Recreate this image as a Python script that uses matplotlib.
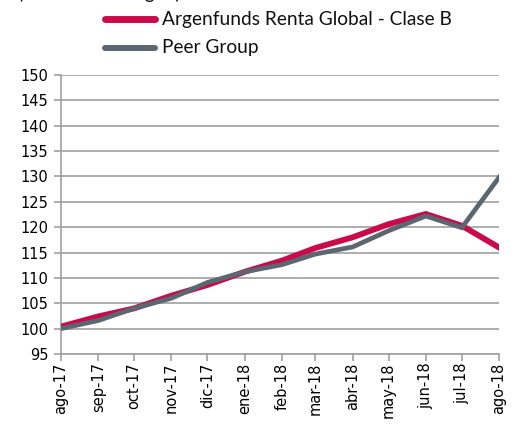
import matplotlib
matplotlib.use("Agg")
import matplotlib.pyplot as plt
from matplotlib.lines import Line2D
import datetime as dt

# ---- data ----
month_labels = ["ago-17", "sep-17", "oct-17", "nov-17", "dic-17", "ene-18", "feb-18",
                "mar-18", "abr-18", "may-18", "jun-18", "jul-18", "ago-18"]
month_dates = ["2017-08-01", "2017-09-01", "2017-10-01", "2017-11-01", "2017-12-01",
               "2018-01-01", "2018-02-01", "2018-03-01", "2018-04-01", "2018-05-01",
               "2018-06-01", "2018-07-01", "2018-08-01"]
fund_values = [100.4, 102.4, 104.0, 106.5, 108.6, 111.2, 113.4, 115.9, 118.0, 120.6, 122.6, 120.3, 116.0]
peer_values = [100.0, 101.6, 104.0, 106.0, 109.1, 111.2, 112.6, 114.7, 116.1, 119.3, 122.2, 119.9, 129.8]
series_names = ["Argenfunds Renta Global - Clase B", "Peer Group"]
y_ticks = [95, 100, 105, 110, 115, 120, 125, 130, 135, 140, 145, 150]
subtitle = "(Base 100 = origen)"

RED = "#CC0A4A"
GRAY = "#5B6770"
GRID = "#A0A0A0"

W, H = 518, 426
fig = plt.figure(figsize=(W / 100, H / 100), dpi=100)
ax = fig.add_axes([61 / W, 1 - 354 / H, (499 - 61) / W, (354 - 75) / H])

dates = [dt.datetime.strptime(d, "%Y-%m-%d") for d in month_dates]

ax.plot(dates, fund_values, color=RED, lw=4.2, solid_joinstyle="miter", zorder=3)
ax.plot(dates, peer_values, color=GRAY, lw=3.4, solid_joinstyle="miter", zorder=4)

ax.set_xlim(dates[0], dates[-1])
ax.set_ylim(95, 150)
ax.set_yticks(y_ticks)
ax.set_xticks(dates)
ax.set_xticklabels(month_labels, rotation=90, fontsize=10.5, family="DejaVu Sans")
ax.set_yticklabels([str(v) for v in y_ticks], fontsize=10.5, family="DejaVu Sans")

ax.grid(axis="y", color=GRID, lw=1.2, zorder=0)
ax.set_axisbelow(True)
for s in ["top", "right"]:
    ax.spines[s].set_visible(False)
for s in ["left", "bottom"]:
    ax.spines[s].set_color(GRID)
    ax.spines[s].set_linewidth(1.2)
ax.tick_params(axis="both", color=GRID, width=1.2, length=5, direction="out")
ax.tick_params(axis="y", pad=4)
ax.tick_params(axis="x", pad=1)

# ---- legend drawn manually above the plot ----
def fy(py):
    return 1 - py / H

leg = [(series_names[0], RED, 19, 5.0), (series_names[1], GRAY, 48, 4.3)]
for name, col, py, lw in leg:
    fig.add_artist(Line2D([105 / W, 155 / W], [fy(py), fy(py)], color=col, lw=lw,
                          solid_capstyle="round", transform=fig.transFigure))
    fig.text(162 / W, fy(py), name, fontsize=13.8, family="Lato", va="center", ha="left",
             color="#111111")

# subtitle sits mostly above the top edge (only descenders visible, as in the reference)
fig.text(18 / W, fy(-0.5), subtitle, fontsize=13.8, family="Lato", va="baseline", ha="left",
         color="#111111")

fig.savefig("out.png", dpi=100)
